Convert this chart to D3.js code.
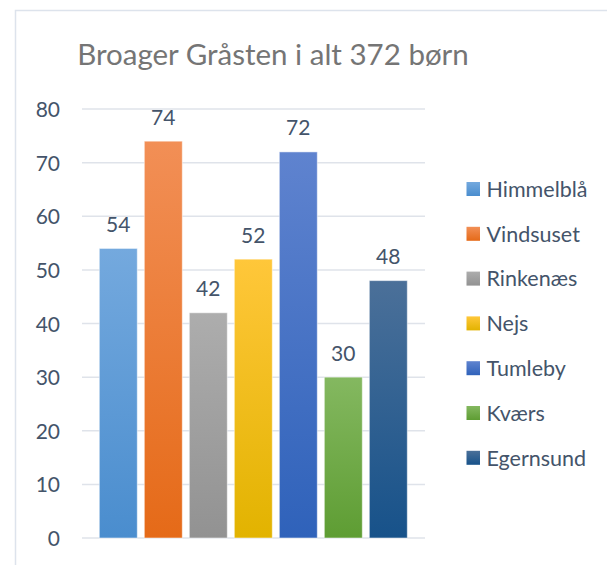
<!DOCTYPE html>
<html><head><meta charset="utf-8">
<script src="https://cdn.jsdelivr.net/npm/d3@7"></script>
<style>html,body{margin:0;padding:0;background:#fff;}svg{display:block;}</style>
</head><body>
<svg id="chart" width="607" height="565"></svg>
<script>
const title = "Broager Gråsten i alt 372 børn";
const categories = ["Himmelblå","Vindsuset","Rinkenæs","Nejs","Tumleby","Kværs","Egernsund"];
const values = [54, 74, 42, 52, 72, 30, 48];
const yTicks = [0,10,20,30,40,50,60,70,80];
const topColors = ["#74a9de","#f28f56","#adadad","#ffc73a","#5f83cf","#84b860","#4b7099"];
const bottomColors = ["#4a8dce","#e56a18","#929292","#e2b300","#2f62ba","#5e9d33","#17528a"];

const FONT = "Lato, 'Open Sans', sans-serif";
const svg = d3.select("#chart");
const defs = svg.append("defs");
categories.forEach((c,i)=>{
  const g = defs.append("linearGradient").attr("id","g"+i).attr("x1",0).attr("y1",0).attr("x2",0).attr("y2",1);
  g.append("stop").attr("offset","0%").attr("stop-color",topColors[i]);
  g.append("stop").attr("offset","100%").attr("stop-color",bottomColors[i]);
});

// chart area border
svg.append("rect").attr("x",15.5).attr("y",10.5).attr("width",620).attr("height",600)
  .attr("fill","none").attr("stroke","#dde3ec").attr("stroke-width",1.5);

const y = d3.scaleLinear().domain([0,80]).range([538,109]);
const x = d3.scaleBand().domain(categories).range([99.3,407.3]).paddingInner(0.156).paddingOuter(0);

// gridlines
svg.append("g").selectAll("line").data(yTicks).join("line")
  .attr("x1",82).attr("x2",425).attr("y1",d=>y(d)).attr("y2",d=>y(d))
  .attr("stroke","#dfe3ea").attr("stroke-width",1.5);

// y axis
const yAxis = d3.axisLeft(y).tickValues(yTicks).tickSize(0).tickPadding(0);
const ya = svg.append("g").attr("transform","translate(60,0)").call(yAxis);
ya.select(".domain").remove();
ya.selectAll("text").attr("font-family",FONT).attr("font-size",21).attr("fill","#44546a").attr("dy","0.36em");

// bars
svg.append("g").selectAll("rect").data(values).join("rect")
  .attr("x",(d,i)=>x(categories[i])).attr("width",x.bandwidth())
  .attr("y",d=>y(d)).attr("height",d=>y(0)-y(d))
  .attr("fill",(d,i)=>"url(#g"+i+")").attr("stroke","#ffffff").attr("stroke-opacity",0.5).attr("stroke-width",1);

// data labels
svg.append("g").selectAll("text").data(values).join("text")
  .attr("x",(d,i)=>x(categories[i])+x.bandwidth()/2).attr("y",d=>y(d)-16.5)
  .attr("text-anchor","middle").attr("font-family",FONT).attr("font-size",21).attr("fill","#44546a")
  .text(d=>d);

// title
svg.append("text").attr("x",273).attr("y",65).attr("text-anchor","middle")
  .attr("font-family",FONT).attr("font-size",29.5).attr("fill","#757575").text(title);

// legend
const leg = svg.append("g").selectAll("g").data(categories).join("g")
  .attr("transform",(d,i)=>`translate(466.5,${189 + i*44.8})`);
leg.append("rect").attr("x",0).attr("y",-7).attr("width",13.5).attr("height",14)
  .attr("fill",(d,i)=>"url(#g"+i+")");
leg.append("text").attr("x",20).attr("y",0).attr("dy","0.36em")
  .attr("font-family",FONT).attr("font-size",21.5).attr("fill","#44546a").text(d=>d);
</script>
</body></html>
